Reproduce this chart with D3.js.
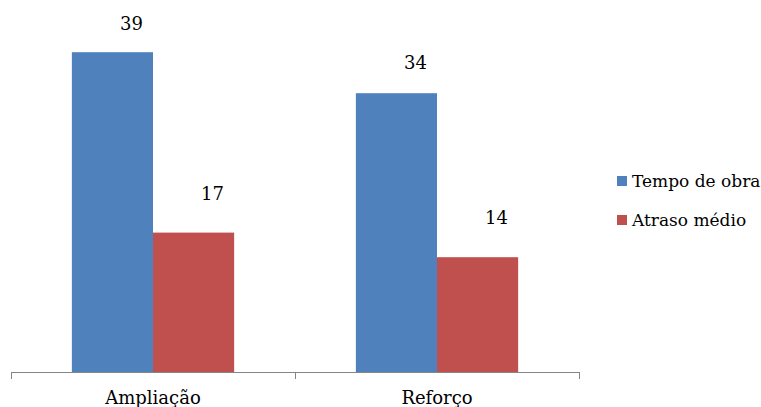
<!DOCTYPE html>
<html>
<head>
<meta charset="utf-8">
<script src="https://cdn.jsdelivr.net/npm/d3@7"></script>
<style>
  html, body { margin: 0; padding: 0; background: #fff; }
</style>
</head>
<body>
<svg id="chart" width="761" height="407"></svg>
<script>
const categories = ["Ampliação", "Reforço"];
const seriesNames = ["Tempo de obra", "Atraso médio"];
const tempoDeObra = [39, 34];
const atrasoMedio = [17, 14];
const colors = ["#4F81BD", "#C0504D"];

const FONT = "DejaVu Serif";

const seriesValues = [tempoDeObra, atrasoMedio];
const data = categories.map((c, i) => ({
  category: c,
  values: seriesNames.map((s, j) => ({ series: s, value: seriesValues[j][i], idx: j }))
}));

const svg = d3.select("#chart");
const baseY = 372;

const x0 = d3.scaleBand().domain(categories).range([11, 579]).paddingInner(0).paddingOuter(0);
const x1 = d3.scaleBand().domain(seriesNames).range([0, x0.bandwidth()]).paddingInner(0).paddingOuter(0.75);
const y = d3.scaleLinear().domain([0, 45]).range([baseY, 3]);

const groups = svg.selectAll("g.cat").data(data).join("g")
  .attr("class", "cat")
  .attr("transform", d => `translate(${x0(d.category)},0)`);

groups.selectAll("rect").data(d => d.values).join("rect")
  .attr("x", d => x1(d.series))
  .attr("width", x1.bandwidth())
  .attr("y", d => y(d.value))
  .attr("height", d => y(0) - y(d.value))
  .attr("fill", d => colors[d.idx]);

groups.selectAll("text.val").data(d => d.values).join("text")
  .attr("class", "val")
  .attr("x", d => x1(d.series) + x1.bandwidth() / 2 + 19)
  .attr("y", d => y(d.value) - (40 - 0.45 * d.value))
  .attr("text-anchor", "middle")
  .attr("font-family", FONT)
  .attr("font-size", 18)
  .attr("fill", "#000")
  .text(d => d.value);

// axis line with ticks at category boundaries
const axisG = svg.append("g");
const edges = categories.map(c => x0(c)).concat([x0(categories[categories.length - 1]) + x0.bandwidth()]);
axisG.append("line")
  .attr("x1", edges[0]).attr("x2", edges[edges.length - 1])
  .attr("y1", baseY + 0.5).attr("y2", baseY + 0.5)
  .attr("stroke", "#868686").attr("stroke-width", 1);
axisG.selectAll("line.tick").data(edges).join("line")
  .attr("class", "tick")
  .attr("x1", d => Math.round(d) + 0.5).attr("x2", d => Math.round(d) + 0.5)
  .attr("y1", baseY).attr("y2", baseY + 7)
  .attr("stroke", "#868686").attr("stroke-width", 1);

const xAxis = d3.axisBottom(x0).tickSize(0).tickPadding(0);
const xg = svg.append("g").attr("transform", `translate(0,${baseY})`).call(xAxis);
xg.select(".domain").remove();
xg.attr("font-family", FONT).attr("font-size", 18);
xg.selectAll("text")
  .attr("font-family", FONT)
  .attr("font-size", 18)
  .attr("fill", "#000")
  .attr("dy", null)
  .attr("y", 32);

// legend
const legend = svg.append("g");
const legendY = [176, 215];
seriesNames.forEach((s, i) => {
  legend.append("rect")
    .attr("x", 617).attr("y", legendY[i])
    .attr("width", 10).attr("height", 10)
    .attr("fill", colors[i]);
  legend.append("text")
    .attr("x", 632).attr("y", legendY[i] + 11)
    .attr("font-family", FONT)
    .attr("font-size", 17)
    .attr("fill", "#000")
    .text(s);
});
</script>
</body>
</html>
